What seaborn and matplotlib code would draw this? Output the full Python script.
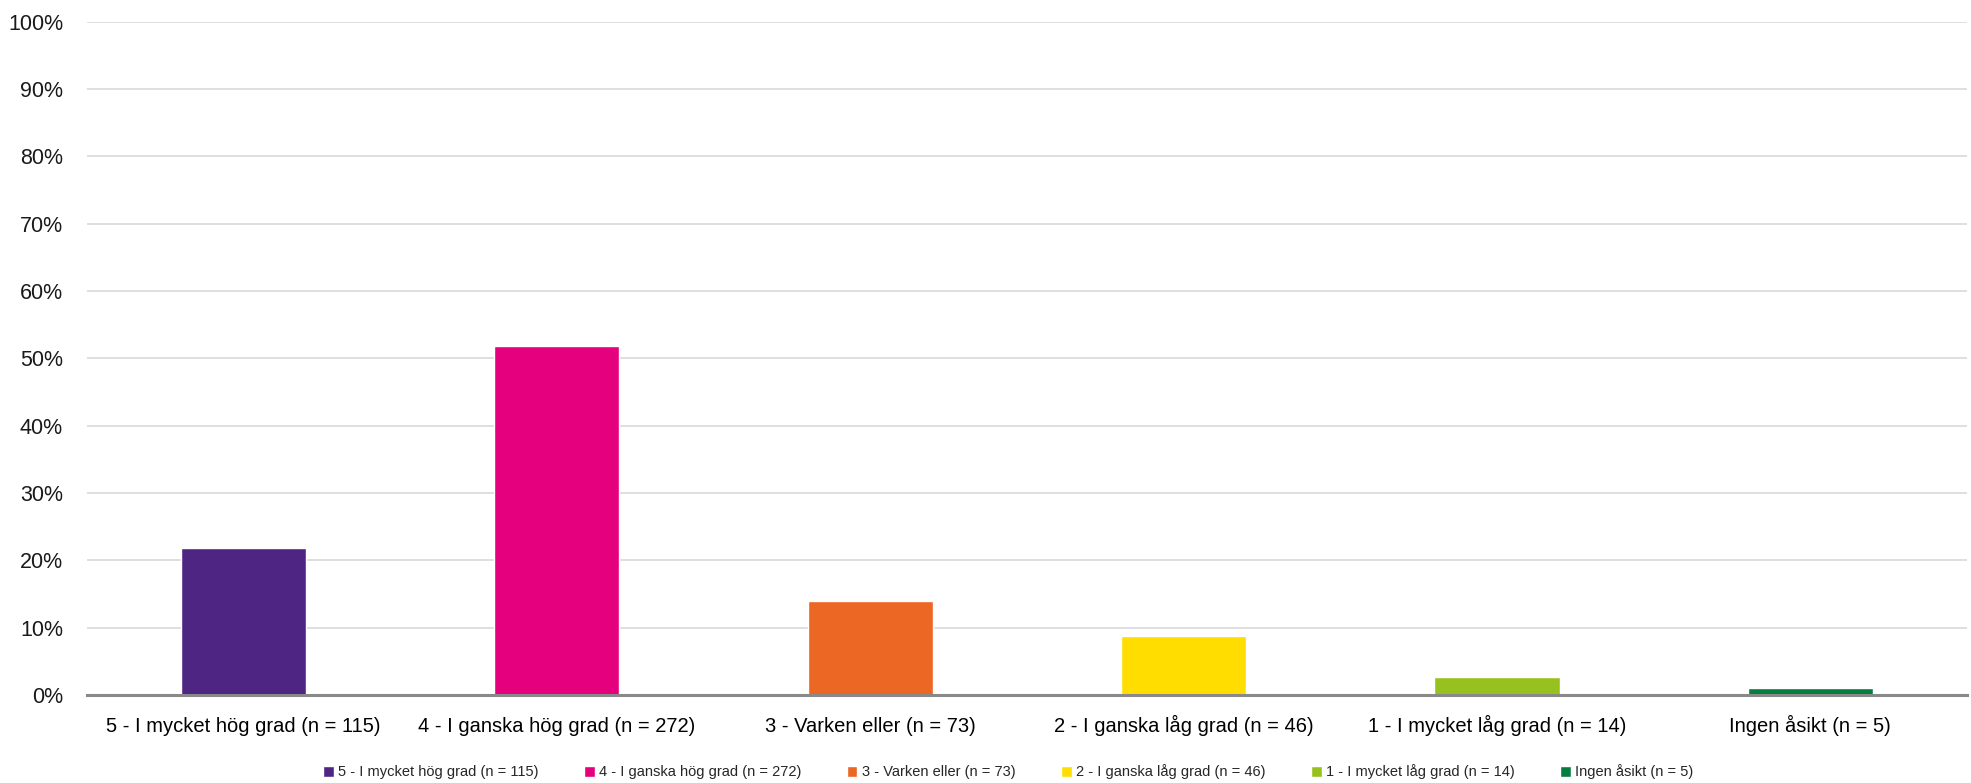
import matplotlib
matplotlib.use("Agg")
import matplotlib.pyplot as plt
import seaborn as sns
import pandas as pd
from matplotlib.ticker import PercentFormatter

# data
kategorier = [
    "5 - I mycket hög grad (n = 115)",
    "4 - I ganska hög grad (n = 272)",
    "3 - Varken eller (n = 73)",
    "2 - I ganska låg grad (n = 46)",
    "1 - I mycket låg grad (n = 14)",
    "Ingen åsikt (n = 5)",
]
andel = [21.9, 51.8, 13.9, 8.8, 2.7, 1.0]
farger = ["#4E2583", "#E5007D", "#EC6624", "#FFDD00", "#97C11F", "#067D3F"]

df = pd.DataFrame({"kategori": kategorier, "andel": andel})

sns.set_style("white")
# smal font saknas, Liberation Sans är närmast
plt.rcParams["font.family"] = ["Liberation Sans Narrow", "Liberation Sans", "DejaVu Sans"]

fig = plt.figure(figsize=(19.71, 7.83), dpi=100)
ax = fig.add_axes([0.044, 0.1124, 0.954, 0.8601])

sns.barplot(data=df, x="kategori", y="andel", hue="kategori",
            palette=farger, width=0.4, dodge=False, legend=True, ax=ax,
            saturation=1)

ax.set_ylim(0, 100)
ax.set_yticks(range(0, 101, 10))
ax.yaxis.set_major_formatter(PercentFormatter(decimals=0))
ax.grid(axis="y", color="#D9D9D9", linewidth=1.2)
ax.set_axisbelow(True)
for s in ["top", "right", "left"]:
    ax.spines[s].set_visible(False)
ax.spines["bottom"].set_color("#898989")
ax.spines["bottom"].set_linewidth(2.2)
ax.set_xlim(-0.5, 5.5)
ax.set_xlabel("")
ax.set_ylabel("")
ax.tick_params(axis="y", length=0, labelsize=15.5, pad=17, labelcolor="#1a1a1a")
ax.tick_params(axis="x", length=0, labelsize=14.5, pad=27, labelcolor="#000000")
# samma baslinje för alla kategorietiketter
for lbl in ax.get_xticklabels():
    lbl.set_va("baseline")

ax.legend(loc="center", bbox_to_anchor=(0.49, -0.114), ncol=6,
          frameon=False, fontsize=10.5, handlelength=0.75, handleheight=0.75,
          handletextpad=0.3, columnspacing=3.1)

plt.savefig("out.png", dpi=100)
